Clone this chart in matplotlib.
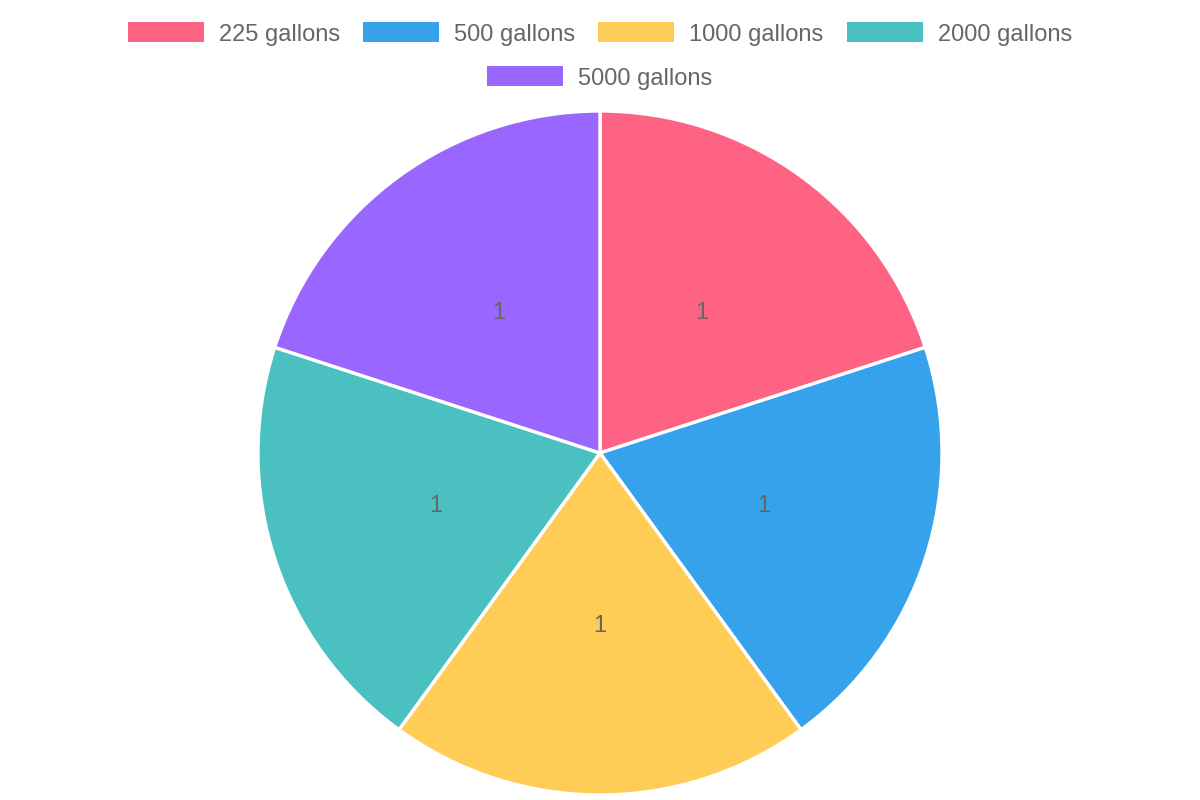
import matplotlib
matplotlib.use("Agg")
import matplotlib.pyplot as plt
from matplotlib.patches import Rectangle

labels = ["225 gallons", "500 gallons", "1000 gallons", "2000 gallons", "5000 gallons"]
values = [1, 1, 1, 1, 1]
colors = ["#ff6384", "#36a2eb", "#ffcd56", "#4bc0c0", "#9966ff"]

W, H = 1200, 800
plt.rcParams["font.family"] = ["Liberation Sans", "DejaVu Sans"]
fs = 17.0  # ~24px at 100 dpi
grey = "#666666"

fig = plt.figure(figsize=(W / 100, H / 100), dpi=100)

# pie area: centre (600, 453), radius 342 px
cx, cy, r = 600, 453, 342
ax = fig.add_axes([(cx - r) / W, (H - cy - r) / H, 2 * r / W, 2 * r / H])
total = sum(values)
wedges, texts, autotexts = ax.pie(
    values, colors=colors, startangle=90, counterclock=False,
    wedgeprops=dict(edgecolor="white", linewidth=2.4),
    autopct=lambda p: "%d" % round(p * total / 100.0), pctdistance=0.505,
    textprops=dict(color=grey, fontsize=fs))
for t in autotexts:
    t.set_va("center")
ax.set_xlim(-1, 1)
ax.set_ylim(-1, 1)
ax.set_aspect("equal")
ax.axis("off")

# legend drawn by hand so that rows are centred like chart.js
fig.canvas.draw()
renderer = fig.canvas.get_renderer()
box_w, box_h, pad, gap = 76, 20, 15, 23
widths = []
for lab in labels:
    t = fig.text(0, 0, lab, fontsize=fs)
    widths.append(t.get_window_extent(renderer).width)
    t.remove()

rows, cur, cur_w = [], [], 0
for i, w in enumerate(widths):
    item = box_w + pad + w
    need = item if not cur else cur_w + gap + item
    if cur and need > W - 40:
        rows.append((cur, cur_w))
        cur, cur_w = [i], item
    else:
        cur.append(i)
        cur_w = need
rows.append((cur, cur_w))

row_y = [32, 76]
for (items, rw), yc in zip(rows, row_y):
    x = (W - rw) / 2.0
    for i in items:
        fig.patches.append(Rectangle((x / W, (H - yc - box_h / 2) / H), box_w / W, box_h / H,
                                     transform=fig.transFigure, facecolor=colors[i],
                                     edgecolor="none"))
        fig.text((x + box_w + pad) / W, (H - yc) / H, labels[i], fontsize=fs,
                 color=grey, va="center_baseline", ha="left")
        x += box_w + pad + widths[i] + gap

fig.savefig("out.png", dpi=100)
